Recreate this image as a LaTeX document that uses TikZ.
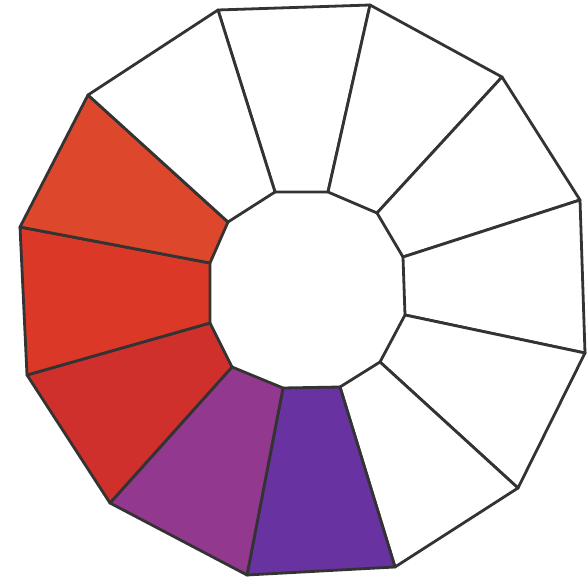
\documentclass[tikz,border=0pt]{standalone}
\begin{document}
\begin{tikzpicture}[x=1pt,y=-1pt,
  seg/.style={draw=black!80,line width=2.8pt,line join=round}]
\useasboundingbox (0,0) rectangle (587,585);
\definecolor{cOrange}{RGB}{221,72,44}
\definecolor{cRed}{RGB}{220,56,40}
\definecolor{cDeepRed}{RGB}{208,48,44}
\definecolor{cMagenta}{RGB}{146,56,142}
\definecolor{cViolet}{RGB}{104,50,160}
% outer vertices
\coordinate (o1) at (218,10);
\coordinate (o2) at (370,5);
\coordinate (o3) at (502,77);
\coordinate (o4) at (580,200);
\coordinate (o5) at (585,353);
\coordinate (o6) at (518,488);
\coordinate (o7) at (395,567);
\coordinate (o8) at (247,575);
\coordinate (o9) at (110,503);
\coordinate (o10) at (27,375);
\coordinate (o11) at (20,227);
\coordinate (o12) at (88,95);
% inner vertices
\coordinate (i1) at (275,192);
\coordinate (i2) at (328,192);
\coordinate (i3) at (377,213);
\coordinate (i4) at (403,257);
\coordinate (i5) at (405,315);
\coordinate (i6) at (380,362);
\coordinate (i7) at (340,387);
\coordinate (i8) at (283,388);
\coordinate (i9) at (232,367);
\coordinate (i10) at (210,323);
\coordinate (i11) at (210,263);
\coordinate (i12) at (228,222);
% segments
\draw[seg,fill=white] (o1) -- (o2) -- (i2) -- (i1) -- cycle;
\draw[seg,fill=white] (o2) -- (o3) -- (i3) -- (i2) -- cycle;
\draw[seg,fill=white] (o3) -- (o4) -- (i4) -- (i3) -- cycle;
\draw[seg,fill=white] (o4) -- (o5) -- (i5) -- (i4) -- cycle;
\draw[seg,fill=white] (o5) -- (o6) -- (i6) -- (i5) -- cycle;
\draw[seg,fill=white] (o6) -- (o7) -- (i7) -- (i6) -- cycle;
\draw[seg,fill=cViolet] (o7) -- (o8) -- (i8) -- (i7) -- cycle;
\draw[seg,fill=cMagenta] (o8) -- (o9) -- (i9) -- (i8) -- cycle;
\draw[seg,fill=cDeepRed] (o9) -- (o10) -- (i10) -- (i9) -- cycle;
\draw[seg,fill=cRed] (o10) -- (o11) -- (i11) -- (i10) -- cycle;
\draw[seg,fill=cOrange] (o11) -- (o12) -- (i12) -- (i11) -- cycle;
\draw[seg,fill=white] (o12) -- (o1) -- (i1) -- (i12) -- cycle;
\end{tikzpicture}
\end{document}
